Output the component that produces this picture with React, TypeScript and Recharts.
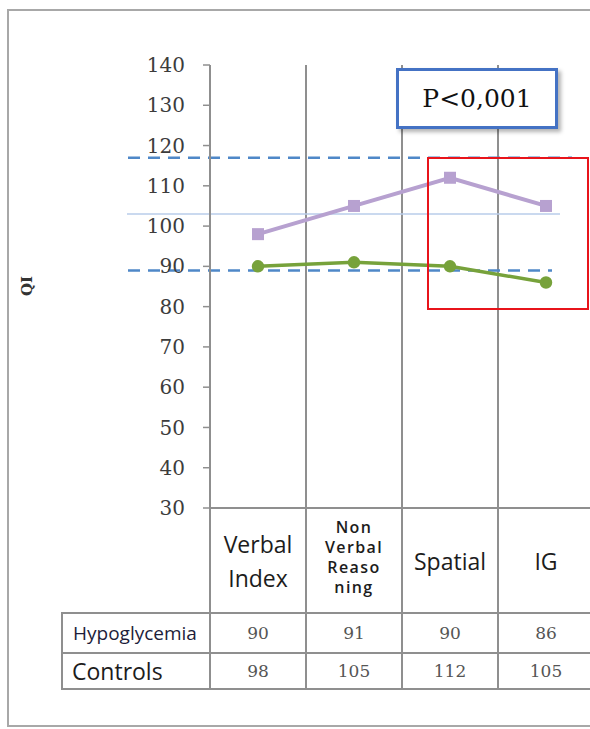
import React from 'react';
import { LineChart, Line, XAxis, YAxis, ReferenceLine } from 'recharts';

const categories = ['Verbal Index', 'Non Verbal Reasoning', 'Spatial', 'IG'];
const categoryLines = [['Verbal', 'Index'], ['Non', 'Verbal', 'Reaso', 'ning'], ['Spatial'], ['IG']];
const hypoglycemia = [90, 91, 90, 86];
const controls = [98, 105, 112, 105];
const yTicks = [30, 40, 50, 60, 70, 80, 90, 100, 110, 120, 130, 140];
const refUpper = 117;
const refMean = 103;
const refLower = 89;

const data = categories.map((c, i) => ({ category: c, hypo: hypoglycemia[i], controls: controls[i] }));

const GRID = '#8f8f8f';
const PURPLE = '#b7a1d0';
const GREEN = '#77a23b';
const BLUE = '#4f88c8';
const SERIF = '"DejaVu Serif", serif';
const SANS = '"Open Sans", sans-serif';

// horizontal band lines run past the plot on the left, stop short on the right
const extLine = (left: number, right: number, stroke: string, width: number, dash?: string) => (p: any) => (
  <line
    x1={p.x1 - left}
    y1={p.y1}
    x2={p.x2 - right}
    y2={p.y2}
    stroke={stroke}
    strokeWidth={width}
    strokeDasharray={dash}
  />
);

const SquareDot = (props: any) => {
  const { cx, cy } = props;
  if (cx == null || cy == null) return null;
  return <rect x={cx - 6} y={cy - 6} width={12} height={12} fill={PURPLE} />;
};

const cell: React.CSSProperties = { border: `2px solid ${GRID}`, padding: 0, textAlign: 'center', verticalAlign: 'middle' };
const valueStyle: React.CSSProperties = { ...cell, fontFamily: SERIF, fontSize: 17, color: '#555' };

const LAST_EXTRA = 40;

export default function App() {
  return (
    <div style={{ position: 'absolute', left: 0, top: 0, width: 590, height: 729, overflow: 'hidden', background: '#fff' }}>
      <div style={{ position: 'absolute', left: 7, top: 9, width: 620, height: 714, border: '2px solid #a8a8a8' }} />

      <LineChart
        width={600}
        height={520}
        data={data}
        margin={{ top: 65, right: 6, bottom: 11, left: 0 }}
        style={{ position: 'absolute', left: 0, top: 0 }}
      >
        <XAxis dataKey="category" type="category" scale="band" height={1} tick={false} tickLine={false} axisLine={{ stroke: GRID, strokeWidth: 2 }} />
        <YAxis
          width={210}
          domain={[30, 140]}
          ticks={yTicks}
          interval={0}
          tickSize={7}
          tickMargin={18}
          axisLine={{ stroke: GRID, strokeWidth: 2 }}
          tickLine={{ stroke: GRID, strokeWidth: 1.5 }}
          tick={{ fontFamily: SERIF, fontSize: 20, fill: '#3c3c3c' }}
        />
        {categories.map((c) => (
          <ReferenceLine key={c} x={c} position="start" stroke={GRID} strokeWidth={2} />
        ))}
        <ReferenceLine y={refUpper} shape={extLine(82, 22, BLUE, 2.5, '12 8')} />
        <ReferenceLine y={refMean} shape={extLine(83, 34, '#b9cdea', 1.5)} />
        <ReferenceLine y={refLower} shape={extLine(82, 42, BLUE, 2.5, '12 8')} />
        <Line dataKey="controls" stroke={PURPLE} strokeWidth={4} dot={SquareDot} isAnimationActive={false} />
        <Line dataKey="hypo" stroke={GREEN} strokeWidth={3.5} dot={{ r: 4.5, fill: GREEN, stroke: GREEN }} isAnimationActive={false} />
      </LineChart>

      <table
        style={{
          position: 'absolute',
          left: 61,
          top: 507,
          borderCollapse: 'collapse',
          tableLayout: 'fixed',
          width: 148 + 96 * 4 + LAST_EXTRA,
          maxWidth: 'none',
        }}
      >
        <colgroup>
          <col style={{ width: 148 }} />
          {categories.map((c, i) => (
            <col key={c} style={{ width: i === categories.length - 1 ? 96 + LAST_EXTRA : 96 }} />
          ))}
        </colgroup>
        <tbody>
          <tr style={{ height: 105 }}>
            <td style={{ padding: 0, border: 'none' }} />
            {categoryLines.map((lines, i) => {
              const small = lines.length > 2;
              const last = i === categoryLines.length - 1;
              return (
                <td
                  key={i}
                  style={{
                    ...cell,
                    paddingRight: last ? LAST_EXTRA : 0,
                    fontFamily: SANS,
                    color: '#1c1c1c',
                    fontSize: small ? 16 : 23,
                    fontWeight: small ? 600 : 400,
                    lineHeight: small ? '20px' : '34px',
                    letterSpacing: small ? 1.4 : 0,
                    paddingBottom: small ? 8 : 0,
                  }}
                >
                  {lines.map((l) => (
                    <div key={l}>{l}</div>
                  ))}
                </td>
              );
            })}
          </tr>
          <tr style={{ height: 40 }}>
            <td style={{ ...cell, textAlign: 'left', paddingLeft: 10, fontFamily: SANS, fontSize: 19, color: '#1d1d3a' }}>Hypoglycemia</td>
            {hypoglycemia.map((v, i) => (
              <td key={i} style={{ ...valueStyle, paddingRight: i === hypoglycemia.length - 1 ? LAST_EXTRA : 0 }}>{v}</td>
            ))}
          </tr>
          <tr style={{ height: 36 }}>
            <td style={{ ...cell, textAlign: 'left', paddingLeft: 9, fontFamily: SANS, fontSize: 23, color: '#1c1c1c', lineHeight: '30px' }}>Controls</td>
            {controls.map((v, i) => (
              <td key={i} style={{ ...valueStyle, paddingRight: i === controls.length - 1 ? LAST_EXTRA : 0 }}>{v}</td>
            ))}
          </tr>
        </tbody>
      </table>

      <div
        style={{
          position: 'absolute',
          left: 14,
          top: 276,
          width: 26,
          height: 20,
          transform: 'rotate(-90deg)',
          fontFamily: SERIF,
          fontWeight: 'bold',
          fontSize: 15,
          color: '#333',
          textAlign: 'center',
          lineHeight: '20px',
        }}
      >
        QI
      </div>

      <div
        style={{
          position: 'absolute',
          left: 396,
          top: 68,
          width: 156,
          height: 55,
          border: '3px solid #4472c4',
          background: '#fff',
          boxShadow: '3px 3px 4px rgba(0,0,0,0.3)',
          fontFamily: SERIF,
          fontSize: 25,
          color: '#111',
          textAlign: 'center',
          lineHeight: '55px',
        }}
      >
        P&lt;0,001
      </div>

      <div
        style={{
          position: 'absolute',
          left: 427,
          top: 157,
          width: 158,
          height: 149,
          border: '2px solid #e8141b',
        }}
      />
    </div>
  );
}
